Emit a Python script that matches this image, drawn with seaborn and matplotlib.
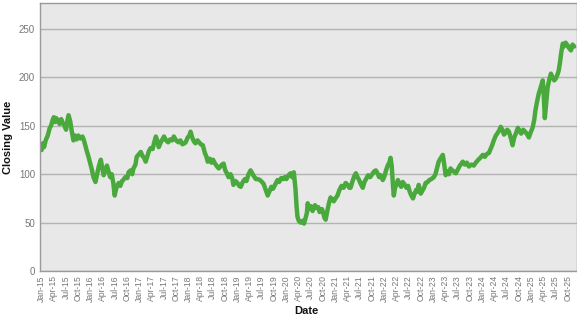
import numpy as np
import pandas as pd
import matplotlib
matplotlib.use("Agg")
import matplotlib.pyplot as plt
import matplotlib.dates as mdates
import seaborn as sns

# x values: months elapsed since 1 Jan 2015
months = [0, 0.3, 0.6, 1, 1.5, 2, 2.3, 2.7, 3, 3.3, 3.6, 4, 4.4, 4.8, 5.2, 5.6, 6, 6.3, 6.6, 7,
          7.4, 7.8, 8.2, 8.6, 9, 9.5, 10, 10.3, 10.7, 11, 11.5, 12, 12.3, 12.7, 13.2, 13.6, 14, 14.5, 14.8, 15.2,
          15.6, 16, 16.4, 16.8, 17.2, 17.6, 17.9, 18.2, 18.5, 18.9, 19.3, 19.7, 20, 20.5, 21, 21.3, 21.8, 22.2, 22.5, 23,
          23.3, 23.7, 24.3, 24.7, 25.1, 25.5, 26, 26.3, 26.7, 27.2, 27.6, 28, 28.4, 28.7, 29.2, 29.6, 30, 30.5, 31, 31.5,
          32, 32.4, 32.8, 33.2, 33.6, 34, 34.5, 35, 35.3, 35.8, 36.2, 36.5, 36.9, 37.3, 37.7, 38.2, 38.6, 39, 39.5, 40,
          40.4, 40.7, 41.2, 41.6, 42, 42.5, 43, 43.4, 43.8, 44.2, 44.6, 45, 45.4, 45.8, 46.3, 46.7, 47, 47.5, 48, 48.4,
          48.8, 49.3, 49.8, 50.2, 50.7, 51.2, 51.6, 52, 52.5, 53, 53.5, 54, 54.4, 54.9, 55.4, 55.8, 56.3, 56.7, 57.3, 57.8,
          58.2, 58.7, 59.2, 59.6, 60, 60.5, 61, 61.4, 61.8, 62.2, 62.5, 62.7, 63, 63.5, 64, 64.3, 64.7, 65, 65.2, 65.6,
          66, 66.4, 66.7, 67, 67.4, 67.8, 68.1, 68.4, 68.7, 69, 69.3, 69.6, 70, 70.4, 70.8, 71.2, 71.6, 72, 72.5, 73,
          73.5, 74, 74.5, 75, 75.4, 75.7, 76.2, 76.6, 77, 77.4, 77.8, 78.2, 78.7, 79.1, 79.5, 80, 80.5, 81, 81.5, 81.9,
          82.3, 82.7, 83.1, 83.6, 84, 84.4, 84.8, 85.2, 85.5, 85.8, 86.1, 86.3, 86.6, 87, 87.3, 87.7, 88.1, 88.5, 89, 89.4,
          89.8, 90.2, 90.6, 91, 91.4, 91.8, 92.1, 92.4, 92.9, 93.3, 93.7, 94.1, 94.6, 95, 95.5, 96.1, 96.5, 97, 97.3, 97.7,
          98.3, 98.6, 99, 99.4, 99.8, 100.2, 100.6, 101, 101.5, 102, 102.5, 103.2, 103.7, 104.2, 104.7, 105.3, 105.9, 106.4, 107, 107.5,
          108.1, 108.6, 109.1, 109.6, 110, 110.4, 110.8, 111.3, 111.8, 112.2, 112.5, 112.9, 113.3, 113.7, 114.1, 114.5, 115, 115.4, 115.8, 116.2,
          116.7, 117.1, 117.5, 118, 118.5, 119, 119.4, 119.8, 120.3, 120.7, 121, 121.4, 121.8, 122.3, 122.8, 123, 123.3, 123.6, 124, 124.4,
          124.8, 125.2, 125.6, 126, 126.4, 126.7, 127, 127.3, 127.7, 128, 128.4, 128.9, 129.3, 129.7, 130.1, 130.5]

closing = [125, 132, 128, 135, 140, 148, 150, 156, 159, 154, 158, 155, 152, 157, 153, 150, 146, 155, 161, 155,
           144, 135, 140, 136, 140, 137, 139, 136, 130, 125, 118, 110, 105, 97, 92, 100, 108, 115, 108, 99,
           104, 109, 103, 97, 100, 90, 78, 84, 88, 91, 88, 93, 94, 97, 96, 102, 104, 100, 106, 110,
           118, 120, 123, 119, 117, 113, 120, 124, 127, 126, 133, 139, 134, 128, 133, 136, 139, 135, 133, 136,
           135, 139, 136, 134, 133, 135, 131, 132, 133, 138, 140, 144, 138, 134, 132, 135, 133, 131, 130, 122,
           118, 113, 116, 112, 115, 111, 108, 106, 108, 110, 111, 104, 101, 97, 100, 96, 89, 93, 91, 88,
           87, 92, 95, 93, 100, 104, 101, 98, 95, 95, 94, 92, 90, 84, 78, 82, 87, 85, 90, 94,
           92, 96, 95, 97, 95, 99, 101, 97, 102, 85, 65, 56, 52, 50, 52, 49, 55, 60, 70, 64,
           67, 62, 66, 68, 65, 66, 61, 62, 64, 60, 55, 53, 62, 70, 76, 74, 72, 75, 78, 84,
           88, 86, 91, 89, 86, 86, 93, 98, 101, 97, 94, 90, 86, 92, 95, 99, 97, 100, 103, 104,
           101, 97, 99, 94, 98, 104, 109, 112, 117, 108, 88, 78, 86, 90, 94, 90, 87, 92, 89, 86,
           88, 82, 78, 75, 80, 84, 82, 89, 80, 83, 86, 91, 92, 94, 95, 97, 100, 108, 113, 116,
           120, 112, 99, 103, 100, 106, 104, 103, 101, 105, 109, 113, 110, 112, 108, 110, 109, 112, 115, 117,
           120, 118, 121, 122, 126, 130, 135, 140, 143, 146, 149, 146, 141, 143, 146, 144, 137, 130, 138, 142,
           148, 145, 142, 146, 144, 141, 138, 143, 148, 156, 166, 175, 183, 190, 197, 185, 158, 172, 190, 198,
           204, 200, 197, 199, 203, 207, 215, 225, 235, 232, 236, 233, 230, 228, 234, 232]

tick_labels_fmt = "%b-%y"

start = pd.Timestamp("2015-01-01")
df = pd.DataFrame({
    "Date": start + pd.to_timedelta(np.array(months) * 30.4375, unit="D"),
    "Closing Value": closing,
})

sns.set_theme(style="white")
plt.rcParams["font.family"] = ["Liberation Sans", "DejaVu Sans"]

fig = plt.figure(figsize=(5.77, 3.15), dpi=100)
ax = fig.add_axes([40 / 577, 1 - 271 / 315, 537 / 577, 268 / 315])
ax.set_facecolor("#e8e8e8")

sns.lineplot(data=df, x="Date", y="Closing Value", ax=ax, color="#4aa93c", linewidth=3.2)

ax.set_ylim(0, 277)
ax.set_yticks([0, 50, 100, 150, 200, 250])
ax.yaxis.grid(True, color="#b3b3b3", linewidth=1.0)
ax.xaxis.grid(False)
ax.set_axisbelow(True)

ax.set_xlim(pd.Timestamp("2014-12-20"), pd.Timestamp("2025-12-07"))
ax.xaxis.set_major_locator(mdates.MonthLocator(bymonth=[1, 4, 7, 10]))
ax.xaxis.set_major_formatter(mdates.DateFormatter(tick_labels_fmt))
plt.setp(ax.get_xticklabels(), rotation=90)

for s in ax.spines.values():
    s.set_color("#9a9a9a")
    s.set_linewidth(1.0)

ax.tick_params(axis="y", labelsize=7, colors="#777777", length=2, width=0.8, pad=1.5)
ax.tick_params(axis="x", labelsize=6.2, colors="#777777", length=2, width=0.8, pad=1)
ax.tick_params(axis="both", color="#9a9a9a")
ax.set_xlabel("Date", fontsize=8, fontweight="bold", color="#111111")
ax.set_ylabel("Closing Value", fontsize=8, fontweight="bold", color="#111111")
ax.xaxis.set_label_coords((306 - 40) / 537, (271 - 306) / 268)
ax.yaxis.set_label_coords((13 - 40) / 537, 0.5)

fig.savefig("out.png", dpi=100)
